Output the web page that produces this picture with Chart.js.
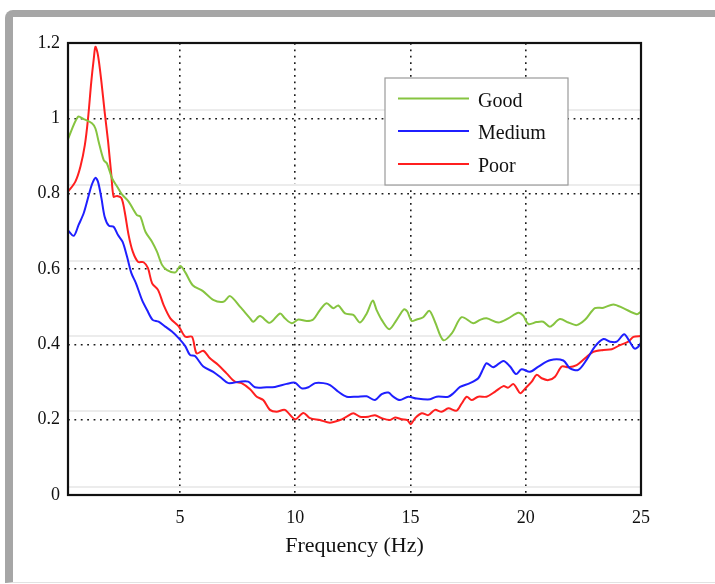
<!DOCTYPE html>
<html>
<head>
<meta charset="utf-8">
<script src="https://cdn.jsdelivr.net/npm/chart.js@4.4.1/dist/chart.umd.min.js"></script>
<style>
  html, body { margin: 0; padding: 0; background: #ffffff; }
  #wrap { position: relative; width: 715px; height: 584px; overflow: hidden; }
  #frame { position: absolute; left: 5px; top: 10px; width: 730px; height: 565px;
           border-top: 7px solid #a6a6a6; border-left: 8px solid #a6a6a6;
           border-bottom: 1px solid #e2e2e2; border-top-left-radius: 8px; box-sizing: content-box; }
  #c { position: absolute; left: 0; top: 0; }
</style>
</head>
<body>
<div id="wrap">
  <div id="frame"></div>
  <canvas id="c" width="715" height="584"></canvas>
</div>
<script>
const seriesLabels = ['Good', 'Medium', 'Poor'];
const xTicks = [5, 10, 15, 20, 25];
const yTickLabels = ['0', '0.2', '0.4', '0.6', '0.8', '1', '1.2'];

const goodFreq = [0.14,0.57,0.82,1.18,1.33,1.47,1.69,1.83,2.05,2.27,
  2.48,2.77,3.13,3.28,3.5,3.79,4.0,4.22,4.44,4.8,
  5.01,5.23,5.55,5.98,6.44,6.88,7.17,7.6,8.04,8.18,
  8.47,8.89,9.34,9.55,9.85,10.13,10.5,10.78,11.07,11.36,
  11.65,11.87,12.16,12.52,12.81,13.1,13.36,13.53,13.75,14.08,
  14.4,14.72,14.86,15.05,15.27,15.55,15.82,16.06,16.42,16.79,
  17.22,17.72,18.02,18.3,18.81,19.24,19.68,19.89,20.11,20.47,
  20.76,21.05,21.48,21.85,22.21,22.57,23.0,23.37,23.8,24.23,
  24.82,25];
const goodVals = [0.945,1.004,0.998,0.987,0.973,0.938,0.889,0.880,0.841,0.819,
  0.798,0.779,0.743,0.739,0.699,0.672,0.646,0.611,0.597,0.591,
  0.608,0.591,0.557,0.542,0.518,0.513,0.528,0.500,0.469,0.460,
  0.475,0.457,0.482,0.469,0.456,0.466,0.462,0.466,0.491,0.509,
  0.496,0.503,0.482,0.478,0.458,0.482,0.516,0.491,0.465,0.440,
  0.465,0.493,0.487,0.462,0.466,0.472,0.489,0.460,0.411,0.429,
  0.472,0.456,0.465,0.469,0.458,0.469,0.484,0.476,0.454,0.459,
  0.460,0.447,0.467,0.458,0.451,0.465,0.496,0.497,0.506,0.496,
  0.480,0.487];

const mediumFreq = [0.14,0.39,0.6,0.82,1.04,1.18,1.33,1.44,1.59,1.73,
  1.91,2.12,2.31,2.51,2.7,2.89,3.09,3.35,3.57,3.81,
  4.07,4.36,4.65,4.95,5.22,5.43,5.65,6.01,6.44,6.81,
  7.1,7.6,7.96,8.25,8.76,9.12,9.63,9.99,10.28,10.57,
  10.86,11.22,11.51,11.87,12.23,12.67,13.1,13.46,13.75,14.04,
  14.25,14.54,14.9,15.27,15.85,16.13,16.64,16.86,17.15,17.58,
  17.94,18.16,18.3,18.59,19.03,19.32,19.58,19.82,20.18,20.55,
  21.05,21.63,21.92,22.28,22.65,23.0,23.37,23.66,23.95,24.27,
  24.49,24.71,24.86,25];
const mediumVals = [0.702,0.688,0.717,0.748,0.796,0.825,0.842,0.832,0.788,0.739,
  0.715,0.712,0.690,0.672,0.633,0.589,0.562,0.518,0.491,0.465,
  0.460,0.447,0.434,0.416,0.396,0.372,0.369,0.341,0.327,0.310,
  0.297,0.301,0.301,0.286,0.286,0.287,0.295,0.298,0.283,0.286,
  0.297,0.297,0.292,0.274,0.261,0.261,0.262,0.252,0.268,0.272,
  0.261,0.252,0.261,0.256,0.254,0.261,0.261,0.270,0.287,0.297,
  0.310,0.336,0.350,0.339,0.356,0.341,0.321,0.334,0.327,0.341,
  0.358,0.357,0.336,0.332,0.360,0.394,0.414,0.407,0.407,0.427,
  0.409,0.389,0.392,0.404];

const poorFreq = [0.14,0.46,0.68,0.87,1.01,1.15,1.26,1.33,1.44,1.59,
  1.73,1.88,2.02,2.12,2.27,2.46,2.6,2.77,2.95,3.18,
  3.42,3.61,3.79,4.05,4.29,4.58,4.95,5.23,5.52,5.72,
  6.01,6.3,6.66,7.02,7.38,7.67,8.04,8.33,8.61,8.9,
  9.19,9.55,9.99,10.35,10.64,11.07,11.5,11.94,12.23,12.52,
  12.81,13.17,13.46,13.75,14.11,14.33,14.62,14.86,15.01,15.2,
  15.49,15.77,16.06,16.35,16.64,17.0,17.22,17.44,17.65,17.94,
  18.3,18.66,19.03,19.24,19.46,19.61,19.76,19.98,20.26,20.47,
  20.69,20.98,21.27,21.56,21.85,22.21,22.57,22.93,23.37,23.73,
  24.09,24.45,24.67,25];
const poorVals = [0.805,0.832,0.872,0.929,1.0,1.097,1.159,1.190,1.168,1.097,
  1.017,0.938,0.849,0.792,0.794,0.788,0.752,0.690,0.646,0.619,
  0.618,0.602,0.562,0.544,0.504,0.469,0.447,0.420,0.420,0.376,
  0.383,0.363,0.345,0.323,0.301,0.297,0.281,0.261,0.252,0.226,
  0.221,0.226,0.201,0.218,0.204,0.199,0.192,0.199,0.208,0.217,
  0.208,0.208,0.212,0.204,0.199,0.206,0.201,0.199,0.188,0.204,
  0.217,0.212,0.226,0.221,0.230,0.224,0.243,0.261,0.252,0.261,
  0.261,0.274,0.289,0.285,0.295,0.283,0.270,0.283,0.301,0.319,
  0.310,0.305,0.314,0.341,0.339,0.345,0.363,0.380,0.385,0.387,
  0.398,0.407,0.420,0.422];

const colors = ['#86c440', '#1f1fff', '#ff1f1f'];
const serif = "'Liberation Serif', 'Times New Roman', serif";

function toXY(fs, vs) { return fs.map((f, i) => ({ x: f, y: vs[i] })); }

const framePlugin = {
  id: 'framePlugin',
  afterDatasetsDraw(chart) {
    const { ctx, chartArea: a } = chart;
    ctx.save();
    ctx.strokeStyle = '#111';
    ctx.lineWidth = 2.2;
    ctx.strokeRect(a.left, a.top, a.right - a.left, a.bottom - a.top);
    ctx.restore();
  }
};

const legendPlugin = {
  id: 'boxLegend',
  afterDraw(chart) {
    const ctx = chart.ctx;
    const bx = 385, by = 78, bw = 183, bh = 107;
    ctx.save();
    ctx.fillStyle = '#ffffff';
    ctx.fillRect(bx, by, bw, bh);
    ctx.strokeStyle = '#9a9a9a';
    ctx.lineWidth = 1.2;
    ctx.strokeRect(bx, by, bw, bh);
    const rows = [98.5, 131, 164];
    chart.data.datasets.forEach((ds, i) => {
      const y = rows[i];
      ctx.strokeStyle = ds.borderColor;
      ctx.lineWidth = 2;
      ctx.beginPath();
      ctx.moveTo(398, y);
      ctx.lineTo(469, y);
      ctx.stroke();
      ctx.fillStyle = '#111';
      ctx.font = '20px ' + serif;
      ctx.textAlign = 'left';
      ctx.textBaseline = 'middle';
      ctx.fillText(ds.label, 478, y + 3);
    });
    ctx.restore();
  }
};

new Chart(document.getElementById('c'), {
  type: 'line',
  data: {
    datasets: [
      { label: seriesLabels[0], data: toXY(goodFreq, goodVals), borderColor: colors[0] },
      { label: seriesLabels[1], data: toXY(mediumFreq, mediumVals), borderColor: colors[1] },
      { label: seriesLabels[2], data: toXY(poorFreq, poorVals), borderColor: colors[2] }
    ].map(d => Object.assign(d, { borderWidth: 2, pointRadius: 0, tension: 0.3, fill: false }))
  },
  options: {
    responsive: false,
    animation: false,
    events: [],
    layout: { padding: { top: 43, right: 74, left: 0, bottom: 0 } },
    plugins: { legend: { display: false }, tooltip: { enabled: false } },
    scales: {
      x: {
        type: 'linear',
        min: 0.14,
        max: 25,
        afterBuildTicks: s => { s.ticks = xTicks.map(v => ({ value: v })); },
        afterFit: s => { s.height = 89; },
        border: { display: false, dash: [1.8, 4.6] },
        grid: {
          drawTicks: false,
          lineWidth: 1.6,
          color: c => (c.tick && c.tick.value >= 25) ? 'rgba(0,0,0,0)' : '#1a1a1a'
        },
        ticks: {
          padding: 12,
          color: '#111',
          font: { family: serif, size: 18 },
          callback: v => String(v)
        },
        title: {
          display: true,
          text: 'Frequency (Hz)',
          color: '#111',
          font: { family: serif, size: 22 },
          padding: { top: 0, bottom: 25 }
        }
      },
      y: {
        min: 0,
        max: 1.2,
        afterBuildTicks: s => { s.ticks = yTickLabels.map(t => ({ value: parseFloat(t) })); },
        afterFit: s => { s.width = 68; },
        border: { display: false, dash: [1.8, 4.6] },
        grid: {
          drawTicks: false,
          lineWidth: 1.6,
          color: c => (c.tick && (c.tick.value <= 0 || c.tick.value >= 1.2)) ? 'rgba(0,0,0,0)' : '#1a1a1a'
        },
        ticks: {
          padding: 8,
          color: '#111',
          font: { family: serif, size: 18 },
          callback: (v, i) => yTickLabels[i]
        }
      },
      yFaint: {
        position: 'right',
        min: -0.022,
        max: 1.178,
        afterBuildTicks: s => { s.ticks = yTickLabels.slice(0, 6).map(t => ({ value: parseFloat(t) })); },
        afterFit: s => { s.width = 0; },
        border: { display: false },
        grid: { drawTicks: false, lineWidth: 2, color: '#ececec' },
        ticks: { display: false }
      }
    }
  },
  plugins: [framePlugin, legendPlugin]
});
</script>
</body>
</html>
